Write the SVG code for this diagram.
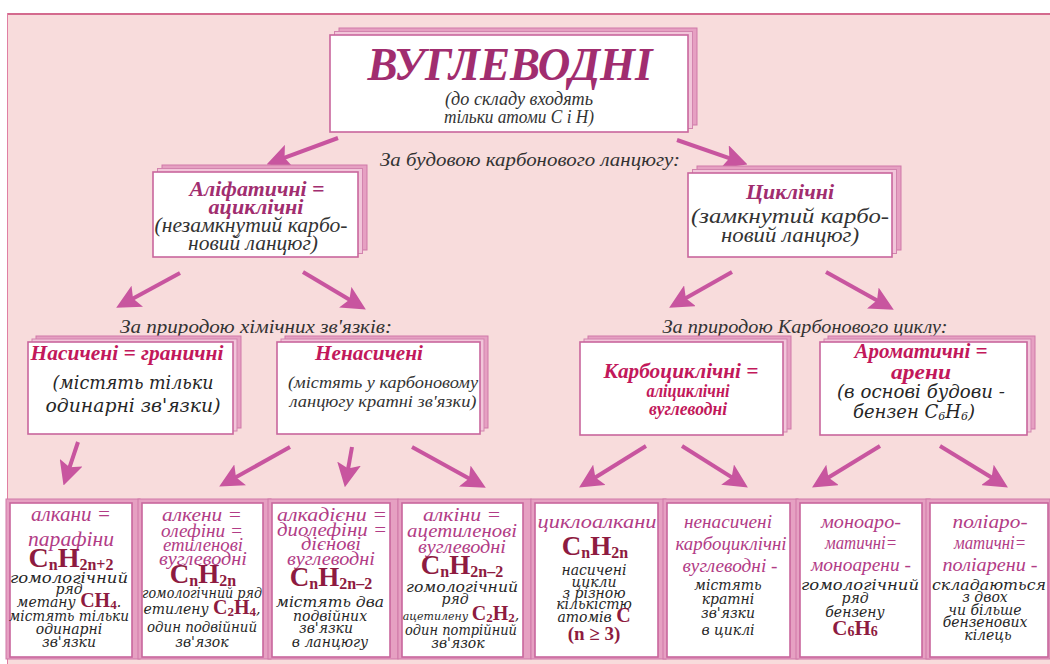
<svg xmlns="http://www.w3.org/2000/svg" width="1050" height="664" viewBox="0 0 1050 664">
<defs>
<style>
.box{fill:#ffffff;stroke:#c9669d;stroke-width:1.6}
.s1{fill:#e6a0c2;stroke:#cf78a8;stroke-width:1}
.s2{fill:#f2c6da;stroke:#d284ae;stroke-width:1}
.con{stroke:#c8559f;stroke-width:4;fill:none;marker-end:url(#ah)}
.ttl{font-family:"Liberation Serif",serif;font-weight:bold;font-style:italic;fill:#a12d6f}
.it{font-family:"Liberation Serif",serif;font-style:italic;fill:#333333}
.cr{font-family:"Liberation Serif",serif;font-weight:bold;font-style:italic;fill:#c2185b}
.mg{font-family:"Liberation Serif",serif;font-style:italic;fill:#b23c86}
.dk{font-family:"DejaVu Serif",serif;font-style:italic;fill:#262626}
.fm{font-family:"Liberation Serif",serif;font-weight:bold;font-style:normal;fill:#8e1b40}
.lab{font-family:"Liberation Serif",serif;font-style:italic;fill:#333333}
</style>
<marker id="ah" viewBox="0 0 10 10" refX="7" refY="5" markerWidth="6" markerHeight="6" orient="auto" markerUnits="strokeWidth">
<path d="M0,0 L10,5 L0,10 L2,5 z" fill="#c8559f"/>
</marker>
</defs>

<g id="background">
<rect x="0" y="0" width="1050" height="664" fill="#ffffff"/>
<rect x="7" y="13" width="1043" height="651" fill="#f8dcdc"/>
<line x1="7" y1="14" x2="1050" y2="14" stroke="#d46a8e" stroke-width="2"/>
<line x1="7.5" y1="13" x2="7.5" y2="664" stroke="#e07fa3" stroke-width="1"/>
</g>

<g id="connectors">
<line class="con" x1="338" y1="138" x2="273.3" y2="161.9"/>
<line class="con" x1="677" y1="140" x2="740.7" y2="162.1"/>
<line class="con" x1="180" y1="273" x2="122.5" y2="304.3"/>
<line class="con" x1="303" y1="272" x2="359.7" y2="305.8"/>
<line class="con" x1="732" y1="272" x2="675.4" y2="304.1"/>
<line class="con" x1="826" y1="272" x2="887.5" y2="306.2"/>
<line class="con" x1="78" y1="442" x2="65.8" y2="478.6"/>
<line class="con" x1="290" y1="447" x2="225.5" y2="483.1"/>
<line class="con" x1="352" y1="447" x2="346.1" y2="480.2"/>
<line class="con" x1="412" y1="447" x2="479.5" y2="484.2"/>
<line class="con" x1="646" y1="446" x2="585.2" y2="483.7"/>
<line class="con" x1="682" y1="446" x2="741.8" y2="483.6"/>
<line class="con" x1="880" y1="446" x2="818.2" y2="483.7"/>
<line class="con" x1="940" y1="446" x2="1001.8" y2="483.7"/>
</g>

<g id="labels">
<text class="lab" x="530" y="166" font-size="18" text-anchor="middle" textLength="300" lengthAdjust="spacingAndGlyphs">За будовою карбонового ланцюгу:</text>
<text class="lab" x="256" y="333" font-size="18" text-anchor="middle" textLength="272" lengthAdjust="spacingAndGlyphs">За природою хімічних зв'язків:</text>
<text class="lab" x="805" y="333" font-size="18" text-anchor="middle" textLength="285" lengthAdjust="spacingAndGlyphs">За природою Карбонового циклу:</text>
</g>

<g id="node-vuglevodni">
<rect class="s1" x="339" y="28" width="358" height="97"/>
<rect class="s2" x="334.5" y="31.5" width="358" height="97"/>
<rect class="box" x="330" y="35" width="358" height="97"/>
<text class="ttl" x="510" y="80" font-size="46" text-anchor="middle" textLength="285" lengthAdjust="spacingAndGlyphs">ВУГЛЕВОДНІ</text>
<text class="it" x="519" y="105" font-size="18" text-anchor="middle" textLength="148" lengthAdjust="spacingAndGlyphs">(до складу входять</text>
<text class="it" x="519" y="123" font-size="18" text-anchor="middle" textLength="150" lengthAdjust="spacingAndGlyphs">тільки атоми С і Н)</text>
</g>

<g id="node-alifatychni">
<rect class="s1" x="162" y="165" width="205" height="85"/>
<rect class="s2" x="157.5" y="168.5" width="205" height="85"/>
<rect class="box" x="153" y="172" width="205" height="85"/>
<text class="ttl" x="257" y="196" font-size="21" text-anchor="middle" textLength="135" lengthAdjust="spacingAndGlyphs">Аліфатичні =</text>
<text class="ttl" x="256" y="214" font-size="21" text-anchor="middle" textLength="95" lengthAdjust="spacingAndGlyphs">ациклічні</text>
<text class="it" x="251" y="232" font-size="20" text-anchor="middle" textLength="193" lengthAdjust="spacingAndGlyphs">(незамкнутий карбо-</text>
<text class="it" x="253" y="250" font-size="20" text-anchor="middle" textLength="130" lengthAdjust="spacingAndGlyphs">новий ланцюг)</text>
</g>

<g id="node-cyclichni">
<rect class="s1" x="697" y="166" width="204" height="84"/>
<rect class="s2" x="692.5" y="169.5" width="204" height="84"/>
<rect class="box" x="688" y="173" width="204" height="84"/>
<text class="ttl" x="790" y="199" font-size="21" text-anchor="middle" textLength="88" lengthAdjust="spacingAndGlyphs">Циклічні</text>
<text class="it" x="790" y="223" font-size="21" text-anchor="middle" textLength="198" lengthAdjust="spacingAndGlyphs">(замкнутий карбо-</text>
<text class="it" x="790" y="242" font-size="21" text-anchor="middle" textLength="138" lengthAdjust="spacingAndGlyphs">новий ланцюг)</text>
</g>

<g id="node-nasycheni">
<rect class="s1" x="36" y="336" width="205" height="92"/>
<rect class="s2" x="32" y="339" width="205" height="92"/>
<rect class="box" x="28" y="342" width="205" height="92"/>
<text class="cr" x="127" y="360" font-size="21" text-anchor="middle" textLength="193" lengthAdjust="spacingAndGlyphs">Насичені = граничні</text>
<text class="dk" x="133" y="389" font-size="19" text-anchor="middle" textLength="161" lengthAdjust="spacingAndGlyphs">(містять тільки</text>
<text class="dk" x="133" y="412" font-size="19" text-anchor="middle" textLength="175" lengthAdjust="spacingAndGlyphs">одинарні зв'язки)</text>
</g>

<g id="node-nenasycheni">
<rect class="s1" x="285" y="336" width="203" height="92"/>
<rect class="s2" x="281" y="339" width="203" height="92"/>
<rect class="box" x="277" y="342" width="203" height="92"/>
<text class="cr" x="369" y="360" font-size="21" text-anchor="middle" textLength="108" lengthAdjust="spacingAndGlyphs">Ненасичені</text>
<text class="it" x="383" y="388" font-size="16" text-anchor="middle" textLength="190" lengthAdjust="spacingAndGlyphs">(містять у карбоновому</text>
<text class="it" x="383" y="407" font-size="16" text-anchor="middle" textLength="187" lengthAdjust="spacingAndGlyphs">ланцюгу кратні зв'язки)</text>
</g>

<g id="node-karbocyclichni">
<rect class="s1" x="588" y="336" width="203" height="93"/>
<rect class="s2" x="584" y="339" width="203" height="93"/>
<rect class="box" x="580" y="342" width="203" height="93"/>
<text class="cr" x="681" y="378" font-size="21" text-anchor="middle" textLength="155" lengthAdjust="spacingAndGlyphs">Карбоциклічні =</text>
<text class="cr" x="688" y="397" font-size="19" text-anchor="middle" textLength="83" lengthAdjust="spacingAndGlyphs">аліциклічні</text>
<text class="cr" x="688" y="415" font-size="19" text-anchor="middle" textLength="78" lengthAdjust="spacingAndGlyphs">вуглеводні</text>
</g>

<g id="node-aromatychni">
<rect class="s1" x="828" y="336" width="207" height="93"/>
<rect class="s2" x="824" y="339" width="207" height="93"/>
<rect class="box" x="820" y="342" width="207" height="93"/>
<text class="cr" x="921" y="358" font-size="21" text-anchor="middle" textLength="133" lengthAdjust="spacingAndGlyphs">Ароматичні =</text>
<text class="cr" x="921" y="379" font-size="21" text-anchor="middle" textLength="60" lengthAdjust="spacingAndGlyphs">арени</text>
<text class="dk" x="921" y="398" font-size="18" text-anchor="middle" textLength="168" lengthAdjust="spacingAndGlyphs">(в основі будови -</text>
<text class="dk" x="914" y="418" font-size="18" text-anchor="middle">бензен C<tspan font-size="11" dy="2">6</tspan><tspan dy="-2">H</tspan><tspan font-size="11" dy="2">6</tspan><tspan dy="-2">)</tspan></text>
</g>

<g id="node-alkany">
<rect class="s1" x="6" y="499" width="134" height="160"/>
<rect class="box" x="10" y="503" width="122" height="154"/>
<text class="mg" x="71" y="521" font-size="21" text-anchor="middle" textLength="80" lengthAdjust="spacingAndGlyphs">алкани =</text>
<text class="mg" x="71" y="546" font-size="21" text-anchor="middle" textLength="86" lengthAdjust="spacingAndGlyphs">парафіни</text>
<text class="fm" x="71" y="567" font-size="28" text-anchor="middle">C<tspan font-size="16" dy="3">n</tspan><tspan dy="-3">H</tspan><tspan font-size="16" dy="3">2n+2</tspan></text>
<text class="dk" x="69" y="583" font-size="14" text-anchor="middle" textLength="118" lengthAdjust="spacingAndGlyphs">гомологічний</text>
<text class="dk" x="69" y="594" font-size="14" text-anchor="middle">ряд</text>
<text class="dk" x="69" y="607" font-size="14" text-anchor="middle">метану <tspan class="fm" font-size="20">CH</tspan><tspan class="fm" font-size="13" dy="2">4</tspan><tspan dy="-2">.</tspan></text>
<text class="dk" x="69" y="621" font-size="14" text-anchor="middle" textLength="120" lengthAdjust="spacingAndGlyphs">містять тільки</text>
<text class="dk" x="69" y="634" font-size="14" text-anchor="middle">одинарні</text>
<text class="dk" x="69" y="647" font-size="14" text-anchor="middle">зв'язки</text>
</g>

<g id="node-alkeny">
<rect class="s1" x="138" y="499" width="133" height="160"/>
<rect class="box" x="142" y="503" width="121" height="154"/>
<text class="mg" x="202" y="521" font-size="19" text-anchor="middle" textLength="80" lengthAdjust="spacingAndGlyphs">алкени =</text>
<text class="mg" x="202" y="537" font-size="19" text-anchor="middle" textLength="82" lengthAdjust="spacingAndGlyphs">олефіни =</text>
<text class="mg" x="203" y="551" font-size="19" text-anchor="middle" textLength="80" lengthAdjust="spacingAndGlyphs">етиленові</text>
<text class="mg" x="203" y="565" font-size="19" text-anchor="middle" textLength="88" lengthAdjust="spacingAndGlyphs">вуглеводні</text>
<text class="fm" x="203" y="583" font-size="27" text-anchor="middle">C<tspan font-size="16" dy="3">n</tspan><tspan dy="-3">H</tspan><tspan font-size="16" dy="3">2n</tspan></text>
<text class="dk" x="202" y="598" font-size="14" text-anchor="middle" textLength="120" lengthAdjust="spacingAndGlyphs">гомологічний ряд</text>
<text class="dk" x="202" y="614" font-size="14" text-anchor="middle">етилену <tspan class="fm" font-size="20">C</tspan><tspan class="fm" font-size="13" dy="2">2</tspan><tspan class="fm" font-size="20" dy="-2">H</tspan><tspan class="fm" font-size="13" dy="2">4</tspan><tspan dy="-2">,</tspan></text>
<text class="dk" x="202" y="632" font-size="14" text-anchor="middle" textLength="110" lengthAdjust="spacingAndGlyphs">один подвійний</text>
<text class="dk" x="202" y="647" font-size="14" text-anchor="middle">зв'язок</text>
</g>

<g id="node-alkadieny">
<rect class="s1" x="268" y="499" width="130" height="160"/>
<rect class="box" x="272" y="503" width="118" height="154"/>
<text class="mg" x="332" y="521" font-size="19" text-anchor="middle" textLength="110" lengthAdjust="spacingAndGlyphs">алкадієни =</text>
<text class="mg" x="332" y="536" font-size="19" text-anchor="middle" textLength="110" lengthAdjust="spacingAndGlyphs">диолефіни =</text>
<text class="mg" x="331" y="550" font-size="19" text-anchor="middle" textLength="60" lengthAdjust="spacingAndGlyphs">дієнові</text>
<text class="mg" x="331" y="565" font-size="19" text-anchor="middle" textLength="88" lengthAdjust="spacingAndGlyphs">вуглеводні</text>
<text class="fm" x="331" y="586" font-size="27" text-anchor="middle">C<tspan font-size="16" dy="3">n</tspan><tspan dy="-3">H</tspan><tspan font-size="16" dy="3">2n–2</tspan></text>
<text class="dk" x="330" y="607" font-size="14" text-anchor="middle" textLength="108" lengthAdjust="spacingAndGlyphs">містять два</text>
<text class="dk" x="330" y="621" font-size="14" text-anchor="middle">подвійних</text>
<text class="dk" x="326" y="633" font-size="14" text-anchor="middle">зв'язки</text>
<text class="dk" x="330" y="647" font-size="14" text-anchor="middle">в ланцюгу</text>
</g>

<g id="node-alkiny">
<rect class="s1" x="398" y="499" width="133" height="160"/>
<rect class="box" x="402" y="503" width="121" height="154"/>
<text class="mg" x="462" y="521" font-size="19" text-anchor="middle" textLength="78" lengthAdjust="spacingAndGlyphs">алкіни =</text>
<text class="mg" x="462" y="537" font-size="19" text-anchor="middle" textLength="110" lengthAdjust="spacingAndGlyphs">ацетиленові</text>
<text class="mg" x="462" y="553" font-size="19" text-anchor="middle" textLength="88" lengthAdjust="spacingAndGlyphs">вуглеводні</text>
<text class="fm" x="462" y="574" font-size="27" text-anchor="middle">C<tspan font-size="16" dy="3">n</tspan><tspan dy="-3">H</tspan><tspan font-size="16" dy="3">2n–2</tspan></text>
<text class="dk" x="462" y="592" font-size="14" text-anchor="middle" textLength="112" lengthAdjust="spacingAndGlyphs">гомологічний</text>
<text class="dk" x="455" y="604" font-size="14" text-anchor="middle">ряд</text>
<text class="dk" x="461" y="620" font-size="14" text-anchor="middle"><tspan font-size="11">ацетилену </tspan><tspan class="fm" font-size="20">C</tspan><tspan class="fm" font-size="13" dy="2">2</tspan><tspan class="fm" font-size="20" dy="-2">H</tspan><tspan class="fm" font-size="13" dy="2">2</tspan><tspan dy="-2">,</tspan></text>
<text class="dk" x="461" y="635" font-size="14" text-anchor="middle" textLength="112" lengthAdjust="spacingAndGlyphs">один потрійний</text>
<text class="dk" x="458" y="648" font-size="14" text-anchor="middle">зв'язок</text>
</g>

<g id="node-cykloalkany">
<rect class="s1" x="531" y="499" width="135" height="160"/>
<rect class="box" x="535" y="503" width="123" height="154"/>
<text class="mg" x="597" y="528" font-size="19" text-anchor="middle" textLength="119" lengthAdjust="spacingAndGlyphs">циклоалкани</text>
<text class="fm" x="595" y="555" font-size="27" text-anchor="middle">C<tspan font-size="16" dy="3">n</tspan><tspan dy="-3">H</tspan><tspan font-size="16" dy="3">2n</tspan></text>
<text class="dk" x="594" y="575" font-size="14" text-anchor="middle">насичені</text>
<text class="dk" x="594" y="587" font-size="14" text-anchor="middle">цикли</text>
<text class="dk" x="594" y="598" font-size="14" text-anchor="middle">з різною</text>
<text class="dk" x="594" y="609" font-size="14" text-anchor="middle">кількістю</text>
<text class="dk" x="594" y="622" font-size="14" text-anchor="middle">атомів <tspan class="fm" font-size="20">C</tspan></text>
<text class="fm" x="594" y="640" font-size="19" text-anchor="middle">(n ≥ 3)</text>
</g>

<g id="node-nenasycheni-karbocyclichni">
<rect class="s1" x="663" y="499" width="135" height="160"/>
<rect class="box" x="667" y="503" width="123" height="154"/>
<text class="mg" x="728" y="528" font-size="19" text-anchor="middle" textLength="88" lengthAdjust="spacingAndGlyphs">ненасичені</text>
<text class="mg" x="731" y="550" font-size="19" text-anchor="middle" textLength="111" lengthAdjust="spacingAndGlyphs">карбоциклічні</text>
<text class="mg" x="730" y="572" font-size="19" text-anchor="middle" textLength="95" lengthAdjust="spacingAndGlyphs">вуглеводні -</text>
<text class="dk" x="728" y="590" font-size="14" text-anchor="middle">містять</text>
<text class="dk" x="728" y="604" font-size="14" text-anchor="middle">кратні</text>
<text class="dk" x="728" y="618" font-size="14" text-anchor="middle">зв'язки</text>
<text class="dk" x="728" y="635" font-size="14" text-anchor="middle">в циклі</text>
</g>

<g id="node-monoareny">
<rect class="s1" x="796" y="499" width="134" height="160"/>
<rect class="box" x="800" y="503" width="122" height="154"/>
<text class="mg" x="861" y="528" font-size="19" text-anchor="middle" textLength="80" lengthAdjust="spacingAndGlyphs">моноаро-</text>
<text class="mg" x="861" y="549" font-size="19" text-anchor="middle" textLength="72" lengthAdjust="spacingAndGlyphs">матичні=</text>
<text class="mg" x="861" y="571" font-size="19" text-anchor="middle" textLength="100" lengthAdjust="spacingAndGlyphs">моноарени -</text>
<text class="dk" x="860" y="590" font-size="14" text-anchor="middle" textLength="118" lengthAdjust="spacingAndGlyphs">гомологічний</text>
<text class="dk" x="855" y="603" font-size="14" text-anchor="middle">ряд</text>
<text class="dk" x="855" y="617" font-size="14" text-anchor="middle">бензену</text>
<text class="fm" x="855" y="635" font-size="21" text-anchor="middle">C<tspan font-size="14" dy="1">6</tspan><tspan dy="-1">H</tspan><tspan font-size="14" dy="1">6</tspan></text>
</g>

<g id="node-poliareny">
<rect class="s1" x="926" y="499" width="124" height="160"/>
<rect class="box" x="930" y="503" width="118" height="154"/>
<text class="mg" x="990" y="528" font-size="19" text-anchor="middle" textLength="75" lengthAdjust="spacingAndGlyphs">поліаро-</text>
<text class="mg" x="990" y="549" font-size="19" text-anchor="middle" textLength="72" lengthAdjust="spacingAndGlyphs">матичні=</text>
<text class="mg" x="990" y="571" font-size="19" text-anchor="middle" textLength="95" lengthAdjust="spacingAndGlyphs">поліарени -</text>
<text class="dk" x="989" y="590" font-size="14" text-anchor="middle" textLength="114" lengthAdjust="spacingAndGlyphs">складаються</text>
<text class="dk" x="985" y="602" font-size="14" text-anchor="middle">з двох</text>
<text class="dk" x="985" y="615" font-size="14" text-anchor="middle">чи більше</text>
<text class="dk" x="985" y="627" font-size="14" text-anchor="middle">бензенових</text>
<text class="dk" x="988" y="640" font-size="14" text-anchor="middle">кілець</text>
</g>
</svg>
